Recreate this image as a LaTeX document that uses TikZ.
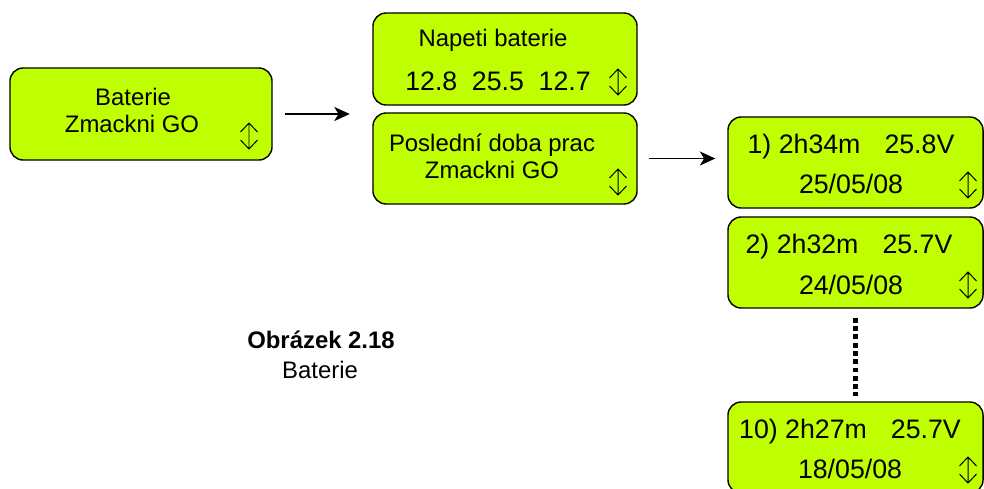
\documentclass[tikz,border=0pt]{standalone}
\usepackage{fontspec}
\setmainfont{Liberation Sans}
\usepackage{xcolor}
\usetikzlibrary{arrows.meta, positioning, calc}
\definecolor{lcdgreen}{RGB}{191,255,0}

\begin{document}
\begin{tikzpicture}[x=0.025cm, y=-0.025cm,
  lcd/.style  = {rectangle, draw=black, fill=lcdgreen, line width=1pt,
                 rounded corners=0.33cm, minimum width=6.55cm,
                 minimum height=2.3cm, inner sep=0},
  lcdr/.style = {lcd, minimum width=6.375cm, minimum height=2.275cm},
  txt/.style  = {anchor=base, inner sep=0, font=\fontsize{17}{20}\selectfont},
  num/.style  = {anchor=base, inner sep=0, font=\fontsize{19}{22}\selectfont},
  link/.style = {-{Stealth[length=11pt, width=10pt, inset=3pt]}, line width=1.1pt},
  dots/.style = {line width=3.5pt, dash pattern=on 3.5pt off 2.4pt},
  updown/.pic = {\draw[line width=0.7pt] (-8.5,-4) -- (0,-13) -- (8.5,-4)
                   (0,-13) -- (0,13) (-8.5,4) -- (0,13) -- (8.5,4);},
]
\useasboundingbox (0,0) rectangle (984,488);
% ── menu boxes ──
\node[lcd] (bat) at (141,114) {};
\node[lcd, minimum width=6.6cm] (nap) at (505,59) {};
\node[lcd, minimum width=6.6cm, minimum height=2.275cm] (pos) at (505,158.5) {};
\foreach \i/\y in {1/162.5, 2/262.5, 10/447.5}
  \node[lcdr] (r\i) at (855.5,\y) {};
% ── texts ──
\node[txt] (bat1) at (133,105)   {Baterie};
\node[txt] (bat2) at (132,132.7) {Zmackni GO};
\node[txt] (nap1) at (493,46.7)  {Napeti baterie};
\node[num] (nap2) at (498,90)    {12.8\hspace{0.55em}25.5\hspace{0.55em}12.7};
\node[txt] (pos1) at (492,151.7) {Poslední doba prac};
\node[txt] (pos2) at (492,178.3) {Zmackni GO};
\node[num] (r1a)  at (851,153.3) {1) 2h34m\hspace{0.9em}25.8V};
\node[num] (r1b)  at (851,193.3) {25/05/08};
\node[num] (r2a)  at (849,253.3) {2) 2h32m\hspace{0.9em}25.7V};
\node[num] (r2b)  at (851,294)   {24/05/08};
\node[num] (r10a) at (850,438)   {10) 2h27m\hspace{0.9em}25.7V};
\node[num] (r10b) at (850,478)   {18/05/08};
% ── scroll marks ──
\foreach \sx/\sy in {249/136, 618/82, 618/182, 968/185, 968/285, 968/470}
  \pic at (\sx,\sy) {updown};
% ── connectors ──
\draw[link, shorten <=8.5pt, shorten >=16pt] (bat.east) -- (bat.east -| nap.west);
\draw[link, shorten <=7.8pt, shorten >=8.5pt] (pos.east) -- (pos.east -| r1.west);
\draw[dots, shorten <=6.4pt, shorten >=3.5pt] (r2.south) -- (r10.north);
% ── caption ──
\node[txt, font=\fontsize{17}{20}\selectfont\bfseries] (cap) at (321,348) {Obrázek 2.18};
\node[txt] (capsub) at (320,378) {Baterie};
\end{tikzpicture}
\end{document}
